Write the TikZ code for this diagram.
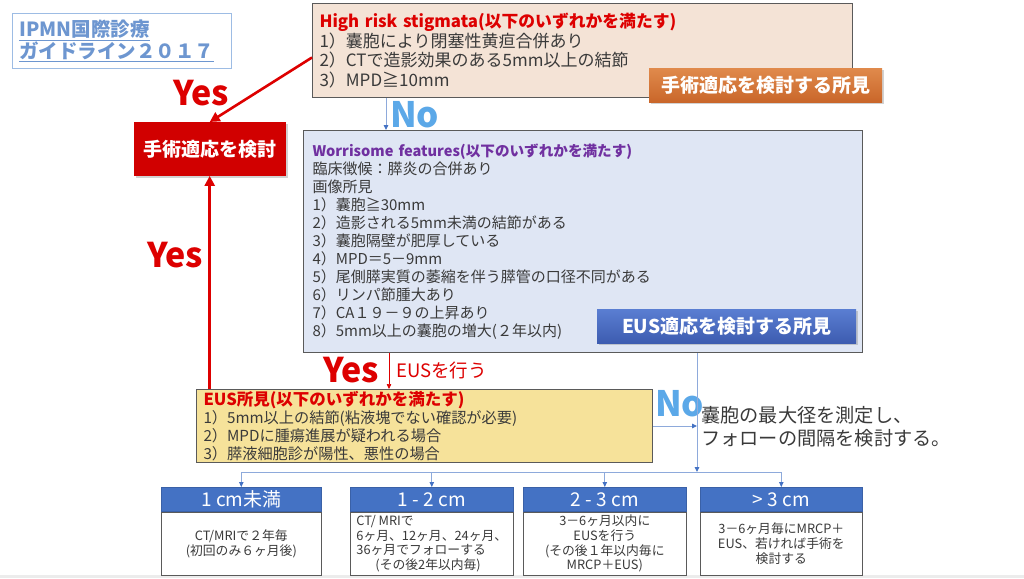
\documentclass[tikz,border=0pt]{standalone}
\usepackage{fontspec}
\setmainfont{Noto Sans CJK JP}
\usetikzlibrary{arrows.meta,positioning,shadows}

\definecolor{textgray}{HTML}{3A3A3A}
\definecolor{boxgray}{HTML}{5A5A5A}
\definecolor{hrsfill}{HTML}{F4E3D6}
\definecolor{wffill}{HTML}{DFE6F4}
\definecolor{eusfill}{HTML}{F6E29A}
\definecolor{titlered}{HTML}{DD0000}
\definecolor{surgred}{HTML}{D10000}
\definecolor{wfpurple}{HTML}{7030A0}
\definecolor{orangetop}{HTML}{E08A4C}
\definecolor{orangebot}{HTML}{C9662A}
\definecolor{bluetop}{HTML}{5A7ED2}
\definecolor{bluebot}{HTML}{3D5CB0}
\definecolor{hdrblue}{HTML}{4472C4}
\definecolor{lineblue}{HTML}{8EAADB}
\definecolor{arrowblue}{HTML}{4472C4}
\definecolor{nocolor}{HTML}{5BA8E8}
\definecolor{titleblue}{HTML}{6D96D0}
\definecolor{titleborder}{HTML}{9DBCE4}

\begin{document}
\begin{tikzpicture}[x=1pt,y=-1pt,
  box/.style={draw=boxgray,line width=1pt,anchor=north west,align=left,inner ysep=1pt,text=textgray},
  label/.style={anchor=north west,text=white,font=\fontsize{19}{22}\selectfont\bfseries,inner sep=0pt,drop shadow={shadow xshift=2pt,shadow yshift=-2pt,opacity=0.35}},
  hdr/.style={anchor=north west,fill=hdrblue,draw=hdrblue!85!black,line width=0.6pt,text=white,minimum height=24pt,inner sep=0pt,font=\fontsize{19}{20}\selectfont},
  body/.style={draw=boxgray,line width=1pt,fill=white,minimum height=63pt,inner sep=0pt,align=center,text=textgray,font=\fontsize{12.8}{14.7}\selectfont},
  bigyes/.style={anchor=base west,inner sep=0pt,text=titlered,font=\fontsize{34}{34}\selectfont\bfseries},
  bigno/.style={anchor=base west,inner sep=0pt,text=nocolor,font=\fontsize{35}{35}\selectfont\bfseries},
  redarrow/.style={draw=titlered,line width=2.6pt,-{Triangle[length=10pt,width=10pt]}},
  thinred/.style={draw=titlered,line width=0.6pt,-{Triangle[length=5pt,width=4.5pt]}},
  blueline/.style={draw=lineblue,line width=0.9pt},
  bluearrow/.style={draw=lineblue,line width=0.9pt,-{Triangle[length=5pt,width=4.5pt,color=arrowblue]}}]

\fill[white] (0,0) rectangle (1024,578);
\useasboundingbox (0,0) rectangle (1024,578);
\fill[gray!15] (0,575) rectangle (1024,578);

% title
\node (title) [anchor=north west,draw=titleborder,line width=0.8pt,minimum width=219pt,minimum height=55pt,
  text width=205pt,inner xsep=7pt,align=left,text=titleblue,font=\fontsize{19.5}{22}\selectfont\bfseries]
  at (12,13) {\underline{IPMN国際診療}\\\underline{ガイドライン２０１７}};

% high risk stigmata
\node (hrs) [box,fill=hrsfill,minimum width=540pt,minimum height=94pt,text width=526pt,inner xsep=7pt,
  font=\fontsize{17}{19.5}\selectfont] at (312,3)
  {{\color{titlered}\bfseries\fontsize{16.8}{19.5}\selectfont High risk stigmata(以下のいずれかを満たす)}\\
   1）囊胞により閉塞性黄疸合併あり\\
   2）CTで造影効果のある5mm以上の結節\\
   3）MPD≧10mm};
\node (surglabel) [label,minimum width=233pt,minimum height=34pt,top color=orangetop,bottom color=orangebot]
  at (649,68) {手術適応を検討する所見};

% worrisome features
\node (wf) [box,fill=wffill,minimum width=559pt,minimum height=222pt,text width=541pt,inner xsep=9pt,
  font=\fontsize{15}{18}\selectfont] at (303,130)
  {{\color{wfpurple}\bfseries\fontsize{14.6}{18}\selectfont Worrisome features(以下のいずれかを満たす)}\\
   臨床徴候：膵炎の合併あり\\
   画像所見\\
   1）囊胞≧30mm\\
   2）造影される5mm未満の結節がある\\
   3）囊胞隔壁が肥厚している\\
   4）MPD＝5－9mm\\
   5）尾側膵実質の萎縮を伴う膵管の口径不同がある\\
   6）リンパ節腫大あり\\
   7）CA１９－９の上昇あり\\
   8）5mm以上の囊胞の増大(２年以内)};
\node (euslabel) [label,minimum width=259pt,minimum height=34pt,top color=bluetop,bottom color=bluebot]
  at (597,309) {EUS適応を検討する所見};

% surgery
\node (surg) [anchor=north west,fill=surgred,minimum width=152pt,minimum height=53.5pt,inner sep=0pt,
  text=white,font=\fontsize{19}{22}\selectfont\bfseries,
  drop shadow={shadow xshift=2pt,shadow yshift=-2pt,opacity=0.35}] at (133.5,122) {手術適応を検討};

% EUS findings
\node (eus) [box,fill=eusfill,minimum width=456pt,minimum height=73pt,text width=442pt,inner xsep=7pt,
  inner ysep=0pt,font=\fontsize{15.2}{18}\selectfont] at (196,389)
  {{\color{titlered}\bfseries\fontsize{16.5}{18}\selectfont EUS所見(以下のいずれかを満たす)}\\
   1）5mm以上の結節(粘液塊でない確認が必要)\\
   2）MPDに腫瘍進展が疑われる場合\\
   3）膵液細胞診が陽性、悪性の場合};

\node (follow) [anchor=west,inner sep=0pt,align=left,text=textgray,font=\fontsize{19.2}{23}\selectfont]
  at (701,426.5) {囊胞の最大径を測定し、\\フォローの間隔を検討する。};

% size classes
\node (h1) [hdr,minimum width=160pt] at (161,487) {1 cm未満};
\node (h2) [hdr,minimum width=163pt] at (350,487) {1 - 2 cm};
\node (h3) [hdr,minimum width=163pt] at (523,487) {2 - 3 cm};
\node (h4) [hdr,minimum width=162pt] at (700,487) {> 3 cm};
\node (b1) [body,minimum width=160pt,below=0pt of h1] {CT/MRIで２年毎\\(初回のみ６ヶ月後)};
\node (b2) [body,minimum width=163pt,below=0pt of h2,align=left]
  {CT/ MRIで\\6ヶ月、12ヶ月、24ヶ月、\\36ヶ月でフォローする\\\hspace*{19pt}(その後2年以内毎)};
\node (b3) [body,minimum width=163pt,below=0pt of h3] {3－6ヶ月以内に\\EUSを行う\\(その後１年以内毎に\\MRCP＋EUS)};
\node (b4) [body,minimum width=162pt,below=0pt of h4] {3－6ヶ月毎にMRCP＋\\EUS、若ければ手術を\\検討する};

% labels
\node (yes1) [bigyes] at (173,105) {Yes};
\node (yes2) [bigyes] at (147,267) {Yes};
\node (yes3) [bigyes] at (323,382) {Yes};
\node (no1) [bigno] at (390,127) {No};
\node (no2) [bigno] at (655,416) {No};
\node (eusdo) [anchor=west,inner sep=0pt,text=titlered,font=\fontsize{18.5}{20}\selectfont] at (396,370) {EUSを行う};

\coordinate (split) at (697,472);

% connectors
\draw [redarrow] ([yshift=-7pt]hrs.west) -- (surg.north);
\draw [redarrow] (eus.north -| surg.south) -- (surg.south);
\draw [bluearrow] ([xshift=74pt]hrs.south west) -- ([xshift=83pt]wf.north west);
\draw [thinred] ([xshift=86pt]wf.south west) -- ([xshift=193pt]eus.north west);
\draw [bluearrow] (split |- wf.south) -- (split);
\draw [bluearrow] (eus.east) -- (eus.east -| split);
\draw [blueline] (h1.north |- split) -- (h4.north |- split);
\foreach \h in {h1,h2,h3,h4}
  \draw [bluearrow] (\h.north |- split) -- (\h.north);
\end{tikzpicture}
\end{document}
